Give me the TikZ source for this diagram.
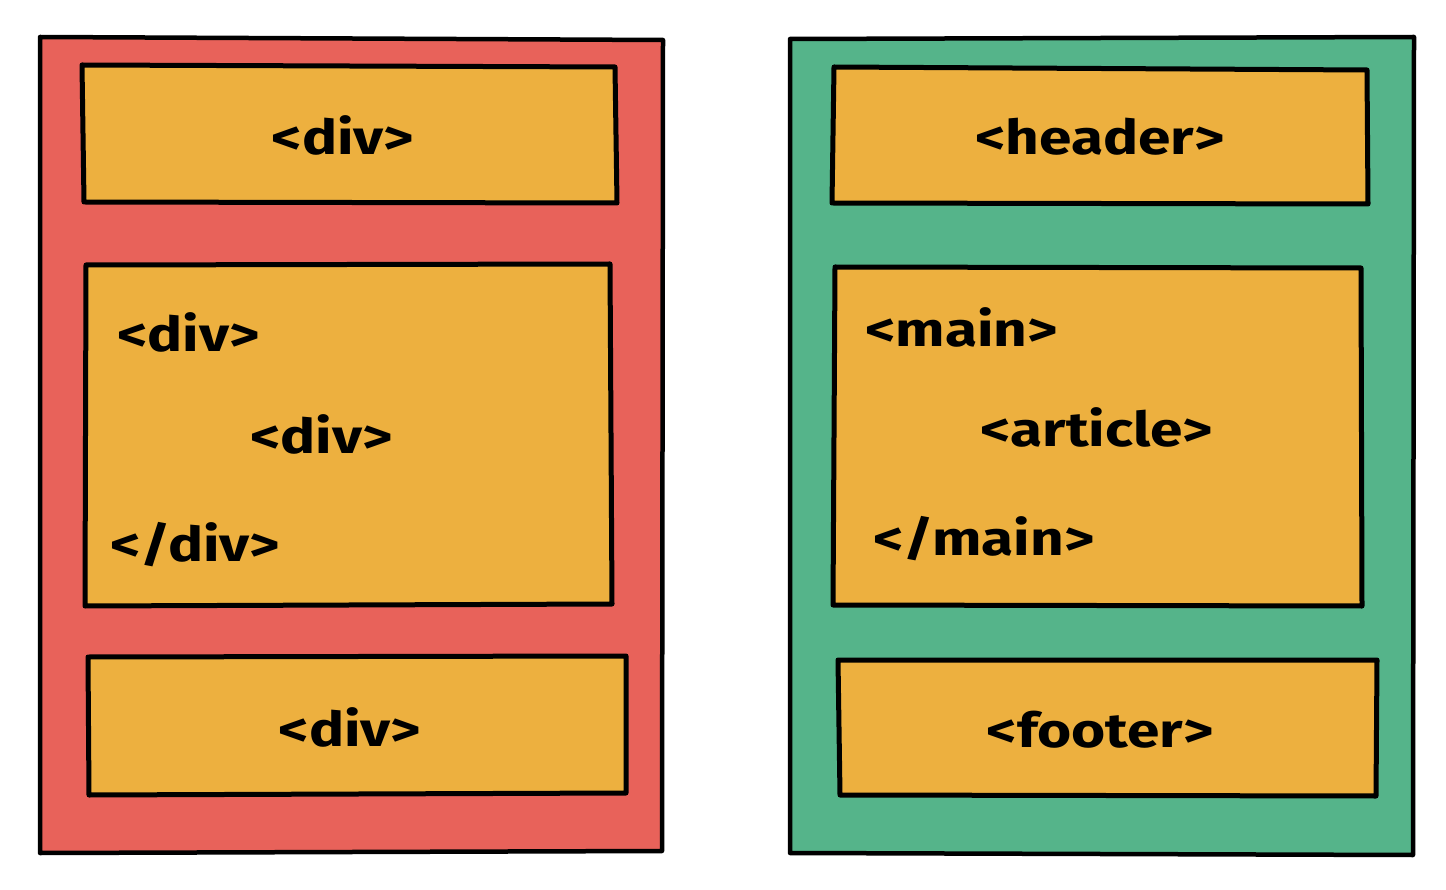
\documentclass[tikz,border=0pt]{standalone}
\usepackage{fontspec}
\setmainfont{Fira Sans}
\definecolor{panelred}{HTML}{E8625A}
\definecolor{panelgreen}{HTML}{55B48A}
\definecolor{boxorange}{HTML}{EDB03F}
\newcommand{\handtag}[1]{\scalebox{1.22}[1]{#1}}
\begin{document}
\begin{tikzpicture}[x=1pt,y=-1pt,
  panel/.style={draw=black,line width=4.5pt,line join=round},
  tagbox/.style={draw=black,fill=boxorange,line width=5pt,line join=round},
  tag/.style={font=\fontsize{48}{54}\selectfont\bfseries,text=black,inner sep=0pt}]
\useasboundingbox (0,0) rectangle (1446,890);
\fill[white] (0,0) rectangle (1446,890);
% left panel
\draw[panel,fill=panelred] (40,37) -- (663,40) -- (662,851) -- (40,853) -- cycle;
\draw[tagbox] (82,65) -- (615,67) -- (617,203) -- (84,202) -- cycle;
\draw[tagbox] (86,265) -- (610,264) -- (612,604) -- (85,606) -- cycle;
\draw[tagbox] (88,657) -- (626,656) -- (626,793) -- (89,795) -- cycle;
\node[tag] (l1) at (343,135) {\handtag{<div>}};
\node[tag,anchor=west] (l2) at (117,332) {\handtag{<div>}};
\node[tag,anchor=west] (l3) at (250,434) {\handtag{<div>}};
\node[tag,anchor=west] (l4) at (110,545) {\handtag{</div>}};
\node[tag] (l5) at (350,727) {\handtag{<div>}};
% right panel
\draw[panel,fill=panelgreen] (790,39) -- (1414,37) -- (1413,855) -- (790,853) -- cycle;
\draw[tagbox] (834,67) -- (1367,70) -- (1368,204) -- (832,203) -- cycle;
\draw[tagbox] (835,267) -- (1361,268) -- (1362,606) -- (833,605) -- cycle;
\draw[tagbox] (838,660) -- (1377,660) -- (1376,796) -- (840,795) -- cycle;
\node[tag] (r1) at (1100,137) {\handtag{<header>}};
\node[tag,anchor=west] (r2) at (865,327) {\handtag{<main>}};
\node[tag,anchor=west] (r3) at (980,427) {\handtag{<article>}};
\node[tag,anchor=west] (r4) at (873,539) {\handtag{</main>}};
\node[tag] (r5) at (1100,730) {\handtag{<footer>}};
\end{tikzpicture}
\end{document}
